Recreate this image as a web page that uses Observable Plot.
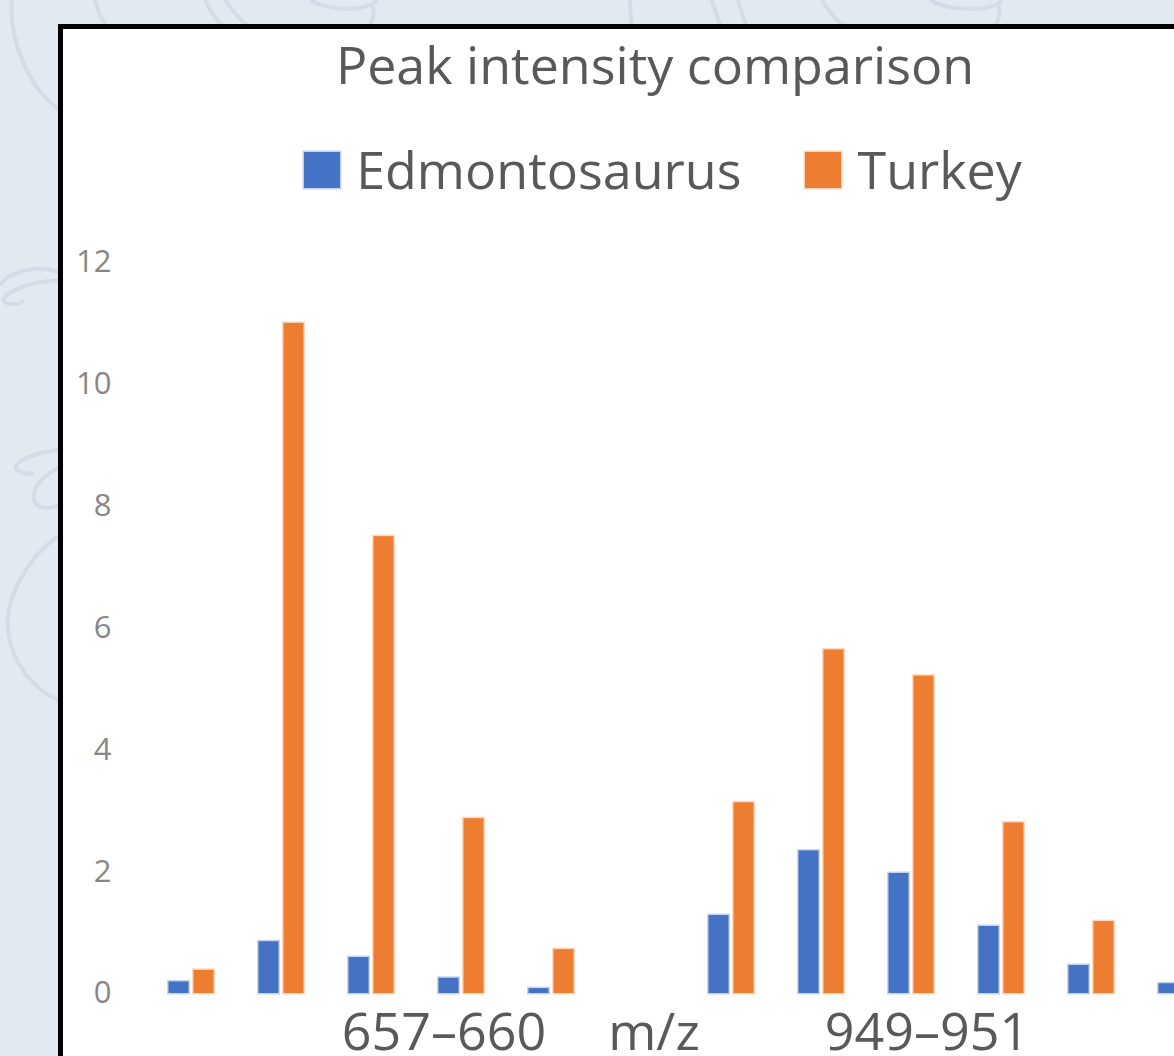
<!DOCTYPE html>
<html>
<head>
<meta charset="utf-8">
<script src="https://cdn.jsdelivr.net/npm/d3@7"></script>
<script src="https://cdn.jsdelivr.net/npm/@observablehq/plot@0.6"></script>
<style>
  html, body { margin: 0; padding: 0; width: 1174px; height: 1056px; overflow: hidden; background: #e2e9f1; }
  #decor { position: absolute; left: 0; top: 0; }
  #panel {
    position: absolute; left: 58px; top: 24px; width: 1184px; height: 1100px;
    background: #fff; border-left: 5px solid #000; border-top: 5px solid #000;
  }
  .title {
    position: absolute; left: 0; top: 9px; width: 1184px; text-align: center;
    font-family: "Open Sans", sans-serif; font-size: 52px; line-height: 1; color: #595959;
  }
  .legend {
    position: absolute; left: 8px; top: 114px; width: 1184px;
    display: flex; justify-content: center; align-items: flex-start;
    font-family: "Open Sans", sans-serif; font-size: 52px; line-height: 1; color: #595959;
  }
  .legend .item { display: flex; align-items: flex-start; }
  .legend .item + .item { margin-left: 64px; }
  .legend .swatch { width: 36px; height: 36px; margin-top: 9px; margin-right: 16px; }
  #chart { position: absolute; left: 0; top: 171px; }
</style>
</head>
<body>
<svg id="decor" width="1174" height="1056" fill="none" stroke="#d3dce7" stroke-width="4">
  <path d="M12 0 C 8 40, 30 90, 60 110"/>
  <path d="M95 0 C 100 20, 108 30, 112 30"/>
  <path d="M205 0 C 212 15, 220 25, 228 30"/>
  <path d="M225 0 C 235 15, 245 25, 255 30"/>
  <path d="M310 0 C 330 12, 360 10, 372 4 C 380 0, 378 -6, 370 -8"/>
  <path d="M372 4 C 376 14, 372 24, 366 30"/>
  <path d="M630 0 C 630 12, 631 22, 632 30"/>
  <path d="M712 0 C 716 14, 720 24, 722 30"/>
  <path d="M738 0 C 742 14, 746 24, 748 30"/>
  <path d="M822 0 C 830 14, 840 24, 850 30"/>
  <path d="M930 0 C 950 12, 985 10, 998 4 C 1004 0, 1000 -6, 992 -8"/>
  <path d="M998 4 C 1002 14, 998 24, 990 30"/>
  <path d="M0 285 C 10 270, 40 265, 58 272"/>
  <path d="M58 280 C 30 282, 10 290, 4 298 C 0 305, 20 306, 24 300"/>
  <path d="M58 450 C 40 452, 20 458, 16 466 C 14 472, 26 474, 34 474"/>
  <path d="M58 468 C 40 478, 32 488, 34 500 C 36 510, 50 508, 58 506"/>
  <path d="M58 536 C 25 560, 5 600, 8 630 C 12 665, 35 690, 58 700"/>
</svg>

<div id="panel">
  <div class="title">Peak intensity comparison</div>
  <div class="legend" id="legend"></div>
  <div id="chart"></div>
</div>

<script>
// Twelve peaks, each drawn as a pair of bars
const peaks = ["p1", "p2", "p3", "p4", "p5", "p6", "p7", "p8", "p9", "p10", "p11", "p12"];
const seriesNames = ["Edmontosaurus", "Turkey"];
const edmontosaurus = [0.19, 0.85, 0.59, 0.25, 0.08, null, 1.28, 2.34, 1.97, 1.10, 0.46, 0.16];
const turkey        = [0.38, 11.0, 7.5, 2.87, 0.72, null, 3.13, 5.64, 5.21, 2.80, 1.18, 0.45];
const seriesColors = ["#4472c4", "#ed7d31"];
const yTicks = [0, 2, 4, 6, 8, 10, 12];
// Range labels written under the bars, with the peak each sits beneath
const rangeLabels = ["657–660", "m/z", "949–951"];
const rangeLabelPeaks = ["p4", "p6", "p9"];

// Long-format table for the grouped bars
const rows = [];
peaks.forEach((p, i) => {
  rows.push({peak: p, series: seriesNames[0], value: edmontosaurus[i]});
  rows.push({peak: p, series: seriesNames[1], value: turkey[i]});
});
const labelRows = rangeLabels.map((label, i) => ({label, peak: rangeLabelPeaks[i]}));

// Horizontal nudges for the range labels relative to their peak
const labelShift = [-18, 12, 15];

// Legend
const legend = document.getElementById("legend");
seriesNames.forEach((name, i) => {
  const item = document.createElement("div");
  item.className = "item";
  const sw = document.createElement("div");
  sw.className = "swatch";
  sw.style.background = seriesColors[i];
  sw.style.boxShadow = `0 0 0 1.5px ${seriesColors[i]}55`;
  const tx = document.createElement("span");
  tx.textContent = name;
  item.append(sw, tx);
  legend.append(item);
});

const chart = Plot.plot({
  width: 1184,
  height: 906,
  marginTop: 62,
  marginBottom: 113,
  marginLeft: 83.5,
  marginRight: 20.5,
  style: {background: "transparent", fontFamily: "Open Sans, sans-serif", overflow: "visible"},
  fx: {domain: peaks, paddingInner: 0.478, paddingOuter: 0.239, axis: null, label: null},
  x: {domain: seriesNames, paddingInner: 0.19, paddingOuter: 0, axis: null},
  y: {domain: [0, 12], axis: null},
  color: {domain: seriesNames, range: seriesColors},
  marks: [
    Plot.axisY({
      ticks: yTicks,
      tickSize: 0,
      tickPadding: 0,
      anchor: "left",
      facetAnchor: "left",
      fontSize: 31,
      fill: "#878787",
      label: null,
      textAnchor: "end",
      dx: -57
    }),
    Plot.barY(rows.filter(d => d.value != null), {
      fx: "peak",
      x: "series",
      y: "value",
      fill: "series",
      stroke: "series",
      strokeOpacity: 0.3,
      strokeWidth: 3
    }),
    ...labelRows.map((d, i) => Plot.text([d], {
      fx: "peak",
      text: "label",
      frameAnchor: "bottom",
      lineAnchor: "top",
      dy: 20,
      dx: labelShift[i],
      fontSize: 52,
      fill: "#595959"
    }))
  ]
});
document.getElementById("chart").append(chart);
</script>
</body>
</html>
